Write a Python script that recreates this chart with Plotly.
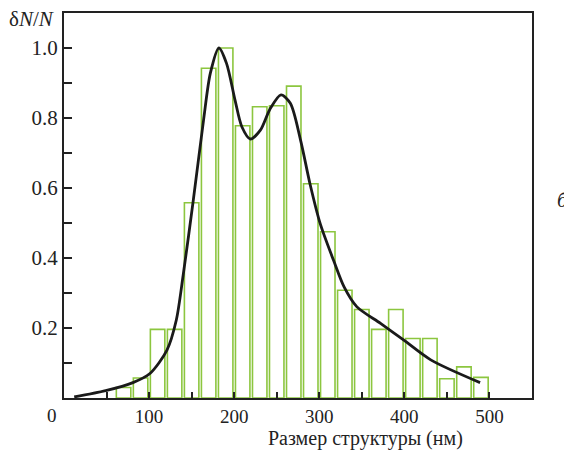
import plotly.graph_objects as go

# histogram bins (left edge, nm) and relative heights
bin_left = [60, 80, 100, 120, 140, 160, 180, 200, 220, 240, 260, 280,
            300, 320, 340, 360, 380, 400, 420, 440, 460, 480]
bin_height = [0.03, 0.057, 0.196, 0.196, 0.558, 0.942, 1.0, 0.778, 0.832, 0.835, 0.891, 0.612,
              0.475, 0.308, 0.253, 0.196, 0.253, 0.17, 0.17, 0.055, 0.089, 0.059]

# fitted curve
curve_x = [12, 49, 81, 101, 121, 132, 140, 152, 164, 172, 182, 191, 201, 209, 219,
           231, 242, 255, 266, 278, 289, 301, 317, 329, 344, 372, 399, 431, 489]
curve_y = [0.003, 0.021, 0.044, 0.07, 0.137, 0.223, 0.35, 0.566, 0.794, 0.928, 1.0, 0.956, 0.851, 0.775, 0.74,
           0.766, 0.825, 0.866, 0.842, 0.737, 0.613, 0.499, 0.392, 0.318, 0.261, 0.213, 0.166, 0.109, 0.044]

xtick_vals = [50, 100, 150, 200, 250, 300, 350, 400, 450, 500]
xtick_text = ["", "100", "", "200", "", "300", "", "400", "", "500"]
ytick_vals = [0.1, 0.2, 0.3, 0.4, 0.5, 0.6, 0.7, 0.8, 0.9, 1.0]
ytick_text = ["", "0.2", "", "0.4", "", "0.6", "", "0.8", "", "1.0"]

serif = "Liberation Serif, Times New Roman, serif"

fig = go.Figure()
fig.add_trace(go.Bar(
    x=[b + 10 for b in bin_left], y=bin_height, width=17,
    marker=dict(color="rgba(255,255,255,0)", line=dict(color="#8cc63f", width=1.6)),
    showlegend=False, hoverinfo="skip"))
fig.add_trace(go.Scatter(
    x=curve_x, y=curve_y, mode="lines",
    line=dict(color="#1a1a1a", width=2.8, shape="spline", smoothing=0.8),
    showlegend=False))

# page body adds an 8px margin, so the figure is 8px smaller than the window
fig.update_layout(
    width=564, height=442,
    margin=dict(l=56, r=40, t=5, b=52),
    plot_bgcolor="white", paper_bgcolor="white",
    font=dict(family=serif, size=21, color="#222"),
    xaxis=dict(range=[0, 550], tickvals=xtick_vals, ticktext=xtick_text,
               ticks="inside", ticklen=6, tickwidth=1.5, tickcolor="#222",
               tickfont=dict(size=19),
               showline=True, linecolor="#222", linewidth=2, mirror=True,
               showgrid=False, zeroline=False, automargin=False),
    yaxis=dict(range=[0, 1.1], tickvals=ytick_vals, ticktext=ytick_text,
               ticks="inside", ticklen=8, tickwidth=1.5, tickcolor="#222",
               tickfont=dict(size=21),
               showline=True, linecolor="#222", linewidth=2, mirror=True,
               showgrid=False, zeroline=False, automargin=False),
    annotations=[
        dict(text="0", xref="paper", yref="paper", x=-0.026, y=-0.012,
             xanchor="center", yanchor="top", showarrow=False, font=dict(size=19)),
        dict(text="Размер структуры (нм)", xref="paper", yref="paper", x=0.645, y=-0.105,
             xanchor="center", yanchor="middle", showarrow=False, font=dict(size=20)),
        dict(text="δ<i>N</i>/<i>N</i>", xref="paper", yref="paper", x=-0.017, y=0.985,
             xanchor="right", yanchor="middle", showarrow=False),
        dict(text="<i>б</i>", xref="paper", yref="paper", x=1.066, y=0.514,
             xanchor="center", yanchor="middle", showarrow=False),
    ],
)

fig.write_html("out.html")
